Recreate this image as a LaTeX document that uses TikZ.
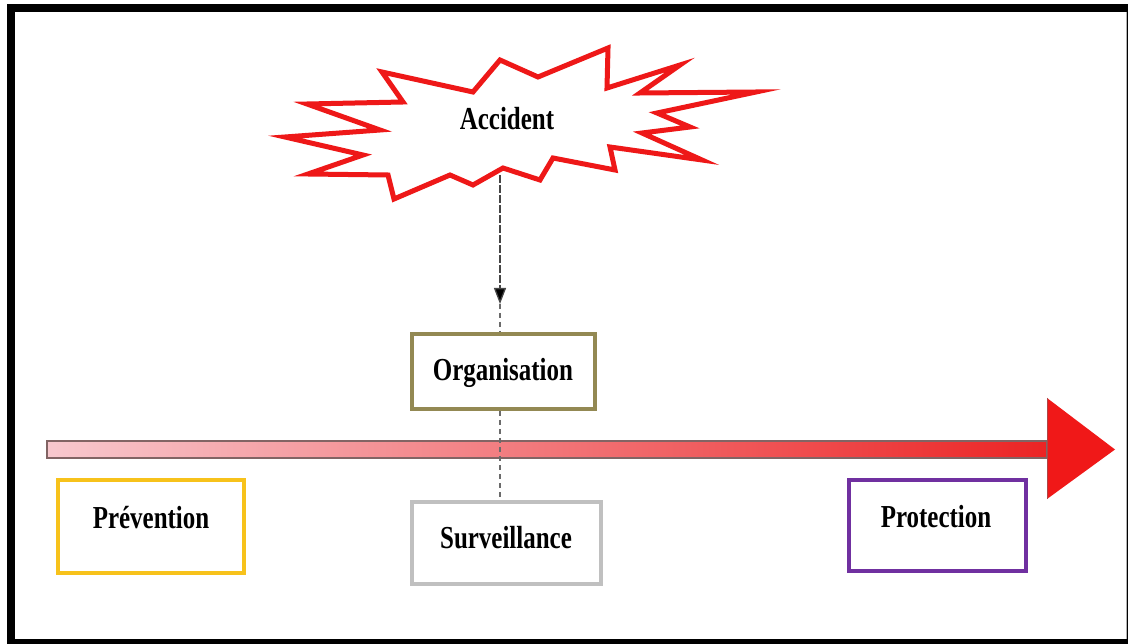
\documentclass[tikz,border=0pt]{standalone}
\usepackage{fontspec}
\newfontfamily\lblfont[FakeStretch=0.78]{Liberation Serif}
\usetikzlibrary{arrows.meta}
\definecolor{burstred}{RGB}{238,24,24}
\definecolor{orgcol}{RGB}{147,137,83}
\definecolor{prevcol}{RGB}{247,194,27}
\definecolor{survcol}{RGB}{192,192,192}
\definecolor{protcol}{RGB}{112,48,160}
\definecolor{shaftL}{RGB}{248,200,206}
\definecolor{shaftM}{RGB}{245,140,150}
\definecolor{shaftR}{RGB}{236,36,36}
\definecolor{headred}{RGB}{240,24,24}
\definecolor{edgecol}{RGB}{130,100,100}
\definecolor{conncol}{RGB}{70,70,70}
\begin{document}
\begin{tikzpicture}[x=1pt,y=-1pt,
  lbl/.style={font=\lblfont\bfseries\fontsize{32}{36}\selectfont, text=black, anchor=base, inner sep=0pt},
  box/.style={draw, line width=4pt, fill=white, inner sep=0pt},
  conn/.style={draw=conncol, line width=1.3pt, dash pattern=on 8pt off 2pt},
  connlight/.style={draw=conncol!80, line width=1.3pt, dash pattern=on 5pt off 4pt},
  burst/.style={draw=burstred, line width=5pt, fill=white, line join=miter, miter limit=20}
]
\useasboundingbox (0,0) rectangle (1128,644);
% frame
\fill[black] (7,4) rectangle (1128,644);
\fill[white] (15,12) rectangle (1126,639);
\draw[gray!60, line width=1pt] (1126.5,12) -- (1126.5,639);

% arrow shaft and head
\shade[left color=shaftL, middle color=shaftM, right color=shaftR] (47,441) rectangle (1047,458);
\draw[edgecol, line width=1.4pt] (47,441) rectangle (1047,458);
\fill[headred] (1047,398) -- (1115,449.5) -- (1047,499) -- cycle;
\draw[edgecol!60!headred, line width=1pt] (1047,398) -- (1047,499);

% connector from accident
\coordinate (accb) at (500,175);
\coordinate (tip) at (500,304);
\draw[conn, -{Triangle[length=16pt,width=12pt,fill=black]}] (accb) -- (tip);

% starburst
\draw[burst] (285,137) -- (380,130) -- (307,104) -- (403,102) -- (382,72) -- (473,92)
  -- (500,60) -- (538,77) -- (608,48) -- (607,88) -- (680,65) -- (640,93)
  -- (756,92) -- (657,113) -- (690,127) -- (642,133) -- (702,160) -- (610,147)
  -- (615,170) -- (553,158) -- (540,180) -- (503,168) -- (473,185) -- (450,175)
  -- (394,199) -- (388,175) -- (308,174) -- (363,155) -- cycle;
\node[lbl] (acc) at (507,130) {Accident};

% boxes
\node[box, draw=orgcol, minimum width=183pt, minimum height=75pt] (org) at (503.5,371.5) {};
\node[box, draw=prevcol, minimum width=186pt, minimum height=93pt] (prev) at (151,526.5) {};
\node[box, draw=survcol, line width=3.5pt, minimum width=189pt, minimum height=82pt] (surv) at (506.5,543) {};
\node[box, draw=protcol, minimum width=177pt, minimum height=91pt] (prot) at (937.5,525.5) {};

% dashed continuation
\draw[connlight] (tip) -- (tip |- org.north);
\draw[connlight] (tip |- org.south) -- (tip |- surv.north);

% labels
\node[lbl] (orgt) at (503,381) {Organisation};
\node[lbl] (prevt) at (151,528) {Prévention};
\node[lbl] (survt) at (506,548) {Surveillance};
\node[lbl] (prott) at (936,527) {Protection};
\end{tikzpicture}
\end{document}
